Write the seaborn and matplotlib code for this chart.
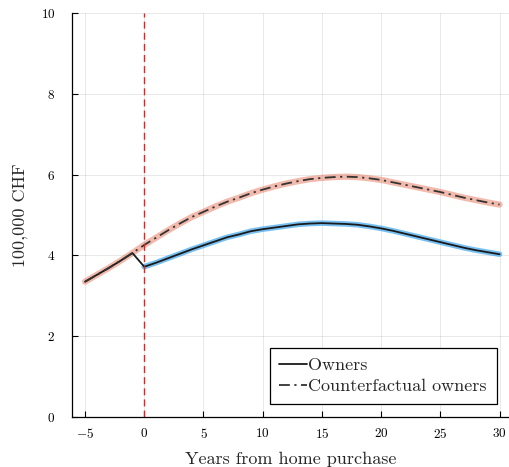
import matplotlib
matplotlib.use("Agg")
import matplotlib.pyplot as plt
import seaborn as sns
import numpy as np
import pandas as pd

# years relative to purchase
years = list(range(-5, 31))

owners = [3.35, 3.52, 3.69, 3.87, 4.06,
          3.72, 3.82, 3.93, 4.04, 4.15, 4.25, 4.35, 4.45, 4.52, 4.60,
          4.65, 4.69, 4.73, 4.77, 4.79, 4.80, 4.79, 4.78, 4.76, 4.72,
          4.67, 4.61, 4.54, 4.47, 4.40, 4.33, 4.26, 4.19, 4.13, 4.08, 4.03]

counterfactual = [3.35, 3.52, 3.69, 3.87, 4.06,
                  4.26, 4.44, 4.62, 4.79, 4.95, 5.08, 5.21, 5.33, 5.43, 5.54,
                  5.63, 5.71, 5.78, 5.84, 5.89, 5.92, 5.94, 5.95, 5.94, 5.91,
                  5.87, 5.81, 5.75, 5.69, 5.63, 5.57, 5.50, 5.43, 5.37, 5.31, 5.26]

df = pd.DataFrame({'year': years, 'owners': owners, 'cf': counterfactual})
post = df[df['year'] >= 0]

sns.set_theme(style='white')
plt.rcParams['font.family'] = 'serif'
plt.rcParams['font.serif'] = ['cmr10', 'DejaVu Serif']
plt.rcParams['mathtext.fontset'] = 'cm'
plt.rcParams['axes.formatter.use_mathtext'] = True
plt.rcParams['axes.unicode_minus'] = True

fig = plt.figure(figsize=(5.09, 4.67), dpi=100)
ax = fig.add_axes([0.1415, 0.107, 0.8585, 0.865])

# confidence bands (drawn as thick translucent lines)
sns.lineplot(data=post, x='year', y='owners', ax=ax, color='#2E9FEA', alpha=0.65,
             linewidth=4, legend=False)
sns.lineplot(data=df, x='year', y='cf', ax=ax, color='#E8826A', alpha=0.55,
             linewidth=4.5, legend=False)

sns.lineplot(data=df, x='year', y='owners', ax=ax, color='#1a1a1a',
             linewidth=1.3, label='Owners')
sns.lineplot(data=df, x='year', y='cf', ax=ax, color='#333333',
             linewidth=1.3, linestyle=(0, (6, 2.5, 1.2, 2.5)),
             label='Counterfactual owners')

ax.axvline(0, color='#E8201E', linestyle=(0, (5, 3)), linewidth=1)

ax.set_xlim(-6.1, 30.8)
ax.set_ylim(0, 10)
ax.set_xticks([-5, 0, 5, 10, 15, 20, 25, 30])
ax.set_yticks([0, 2, 4, 6, 8, 10])
ax.grid(True, color='#000000', alpha=0.1, linewidth=0.6)
for s in ['top', 'right']:
    ax.spines[s].set_visible(False)
for s in ['left', 'bottom']:
    ax.spines[s].set_color('black')
    ax.spines[s].set_linewidth(0.9)
ax.tick_params(direction='in', length=4, width=0.8, labelsize=9.5,
               left=True, bottom=True, colors='black')
ax.tick_params(axis='x', pad=7)
ax.tick_params(axis='y', pad=12)

ax.set_xlabel('Years from home purchase', fontsize=13, labelpad=8)
ax.set_ylabel('100,000 CHF', fontsize=13, labelpad=9)

leg = ax.legend(loc='lower right', fontsize=13, frameon=True, fancybox=False,
                edgecolor='black', framealpha=1, handlelength=1.5,
                handletextpad=0.1, borderpad=0.55, labelspacing=0.3,
                borderaxespad=0, bbox_to_anchor=(0.972, 0.032))
leg.get_frame().set_linewidth(0.9)

fig.savefig('out.png', dpi=100)
